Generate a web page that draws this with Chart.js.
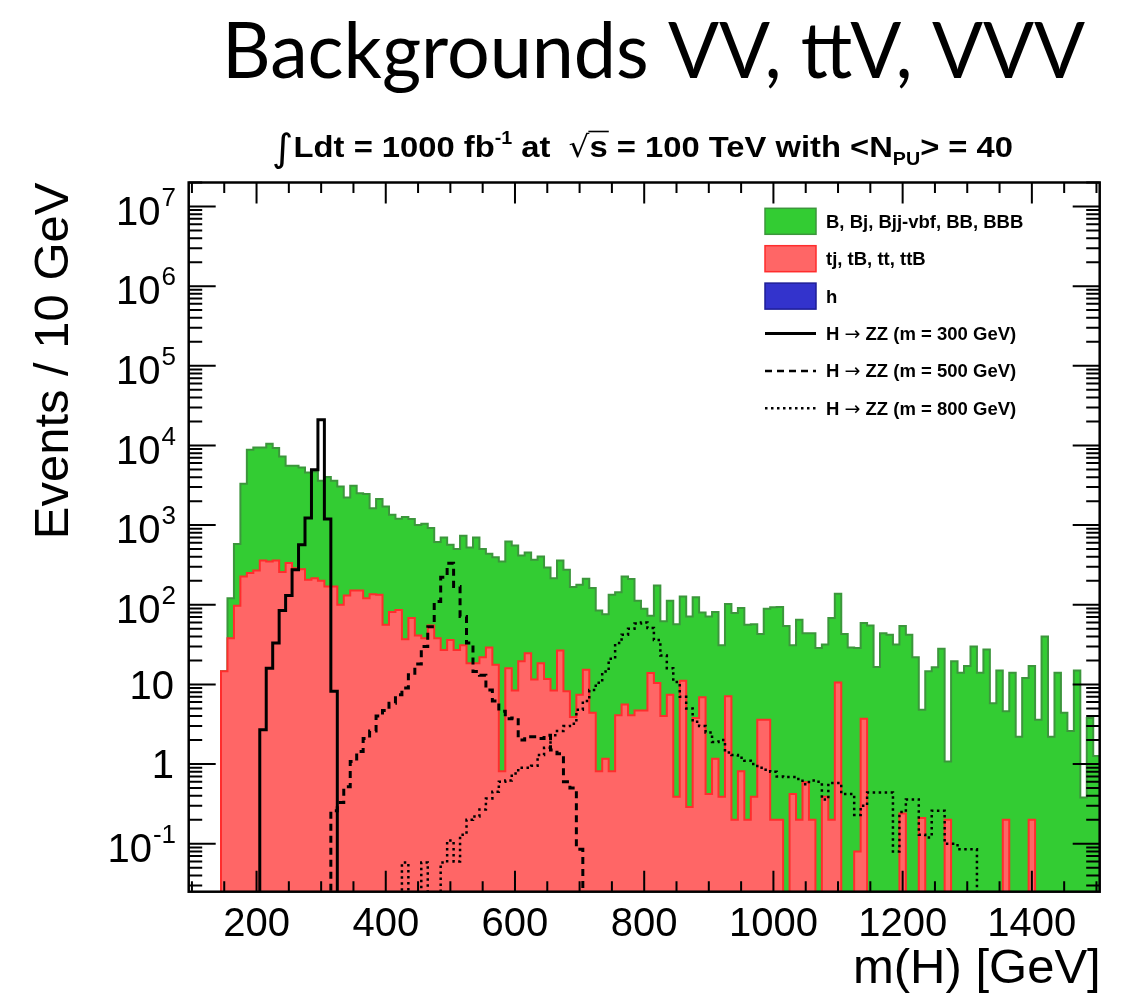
<!DOCTYPE html>
<html>
<head>
<meta charset="utf-8">
<title>Backgrounds VV, ttV, VVV</title>
<script src="https://cdn.jsdelivr.net/npm/chart.js@4.4.1/dist/chart.umd.min.js"></script>
<style>
  html, body { margin: 0; padding: 0; background: #fff; }
  #wrap { width: 1129px; height: 993px; }
</style>
</head>
<body>
<div id="wrap"><canvas id="chart" width="1129" height="993"></canvas></div>
<script>
// 10 GeV bins centred on 100, 110, ... 1500 GeV
const binCentres = Array.from({ length: 141 }, (_, i) => 100 + 10 * i);

// stacked total (green) : B, Bj, Bjj-vbf, BB, BBB on top of the top-quark samples
const totalBkg = [
  0, 0, 0, 0, 0, 14.6, 121, 578, 3300, 8830,                 // 100-190
  9440, 9440, 10500, 9260, 7280, 5560, 5560, 5300, 4580, 4720,   // 200-290
  3600, 4010, 3600, 3060, 2220, 3120, 2520, 2450, 1630, 2120,    // 300-390
  1710, 1350, 1200, 1260, 1190, 1000, 1040, 917, 612, 700,       // 400-490
  566, 500, 735, 525, 700, 500, 437, 396, 350, 624,              // 500-590
  556, 416, 454, 367, 405, 294, 216, 360, 275, 167,              // 600-690
  178, 212, 162, 85, 76, 134, 144, 227, 210, 112,                // 700-790
  89, 73, 175, 62, 112, 57, 127, 71, 124, 80,                    // 800-890
  71, 81, 31, 102, 79, 91, 56, 57, 43, 89,                       // 900-990
  93, 94, 54, 31, 65, 44, 44, 28.7, 31.6, 68,                    // 1000-1090
  138, 43, 29, 28.7, 59, 55, 16.6, 44, 42, 31.6,                 // 1100-1190
  54, 42, 22, 4.8, 14.6, 16.4, 28, 1.08, 19.5, 14,               // 1200-1290
  17, 30, 14, 27.5, 5.8, 15, 4.6, 14, 2.2, 12,                   // 1300-1390
  17, 3.6, 40, 2.2, 14, 4.4, 2.6, 15, 0.38, 3.8,                 // 1400-1490
  1.26                                                           // 1500
];

// tj, tB, tt, ttB (red)
const topBkg = [
  0, 0, 0, 0, 0, 14.6, 38, 97, 227, 250,
  270, 360, 350, 360, 257, 334, 288, 280, 206, 215,
  200, 170, 170, 100, 131, 151, 151, 121, 136, 134,
  56, 81, 86, 37, 68, 41, 38, 55, 38, 27,
  36, 27, 31, 18.5, 18.5, 22, 29, 17.7, 0.81, 16,
  8.4, 19.5, 24.7, 11.5, 18.5, 11.7, 8.4, 26.7, 8.2, 3.9,
  7.4, 15.3, 4.4, 0.81, 1.17, 0.81, 4.1, 5.6, 4.1, 4.7,
  4.7, 13.9, 10.4, 4.0, 7.4, 0.39, 11.1, 0.29, 3.8, 6.9,
  0.42, 1.17, 0.39, 7.1, 0.2, 0.81, 0.2, 0.39, 3.6, 3.6,
  0.2, 0.2, 0, 0.42, 0.2, 0.59, 0.2, 0, 0.39, 0.2,
  10.6, 0, 0, 0.08, 3.7, 0, 0, 0, 0, 0,
  0.24, 0, 0, 0.21, 0, 0, 0, 0.2, 0, 0,
  0, 0, 0, 0, 0, 0, 0.2, 0, 0, 0,
  0.2, 0, 0, 0, 0, 0, 0, 0, 0, 0,
  0
];

// H -> ZZ signals
const sig300 = [
  0, 0, 0, 0, 0, 0, 0, 0, 0, 0,
  0, 2.7, 16, 33, 85, 131, 275, 566, 1225, 4950,
  21000, 1190, 8.2, 0, 0, 0, 0, 0, 0, 0,
  0, 0, 0, 0, 0, 0, 0, 0, 0, 0,
  0, 0, 0, 0, 0, 0, 0, 0, 0, 0,
  0, 0, 0, 0, 0, 0, 0, 0, 0, 0,
  0, 0, 0, 0, 0, 0, 0, 0, 0, 0,
  0, 0, 0, 0, 0, 0, 0, 0, 0, 0,
  0, 0, 0, 0, 0, 0, 0, 0, 0, 0,
  0, 0, 0, 0, 0, 0, 0, 0, 0, 0,
  0, 0, 0, 0, 0, 0, 0, 0, 0, 0,
  0, 0, 0, 0, 0, 0, 0, 0, 0, 0,
  0, 0, 0, 0, 0, 0, 0, 0, 0, 0,
  0, 0, 0, 0, 0, 0, 0, 0, 0, 0,
  0
];

const sig500 = [
  0, 0, 0, 0, 0, 0, 0, 0, 0, 0,
  0, 0, 0, 0, 0, 0, 0, 0, 0, 0,
  0, 0, 0.26, 0.33, 0.52, 1.08, 1.44, 2.1, 2.6, 4.0,
  4.7, 5.8, 7.4, 9.0, 13.2, 18, 30, 53, 110, 222,
  333, 170, 71, 33, 14.5, 13, 8.5, 6.2, 4.6, 3.7,
  3.8, 2.0, 2.2, 2.2, 2.1, 2.3, 1.5, 1.35, 0.6, 0.5,
  0.085, 0, 0, 0, 0, 0, 0, 0, 0, 0,
  0, 0, 0, 0, 0, 0, 0, 0, 0, 0,
  0, 0, 0, 0, 0, 0, 0, 0, 0, 0,
  0, 0, 0, 0, 0, 0, 0, 0, 0, 0,
  0, 0, 0, 0, 0, 0, 0, 0, 0, 0,
  0, 0, 0, 0, 0, 0, 0, 0, 0, 0,
  0, 0, 0, 0, 0, 0, 0, 0, 0, 0,
  0, 0, 0, 0, 0, 0, 0, 0, 0, 0,
  0
];

const sig800 = [
  0, 0, 0, 0, 0, 0, 0, 0, 0, 0,
  0, 0, 0, 0, 0, 0, 0, 0, 0, 0,
  0, 0, 0, 0, 0, 0, 0, 0, 0, 0,
  0, 0, 0, 0.058, 0, 0, 0.058, 0, 0, 0.058,
  0.11, 0.06, 0.13, 0.2, 0.22, 0.27, 0.37, 0.45, 0.6, 0.62,
  0.76, 0.9, 0.9, 0.95, 1.3, 1.6, 2.3, 2.6, 3.0, 3.2,
  4.8, 6.2, 8.5, 10.5, 14.5, 21, 33, 42, 50, 58,
  60, 51, 36, 23, 16, 10.7, 7, 5, 3.4, 3.0,
  2.5, 1.9, 2.0, 1.4, 1.3, 1.2, 1.1, 1.0, 0.9, 0.85,
  0.8, 0.7, 0.69, 0.69, 0.65, 0.56, 0.62, 0.6, 0.36, 0.58,
  0.58, 0.42, 0.42, 0.23, 0.3, 0.44, 0.44, 0.44, 0.44, 0.08,
  0.25, 0.36, 0.36, 0.13, 0.12, 0.26, 0.26, 0.1, 0.1, 0.085,
  0.085, 0.085, 0, 0, 0, 0, 0, 0, 0, 0,
  0, 0, 0, 0, 0, 0, 0, 0, 0, 0,
  0
];

const xTickLabels = [200, 400, 600, 800, 1000, 1200, 1400];
const yTickExponents = [-1, 0, 1, 2, 3, 4, 5, 6, 7];

const titleText = 'Backgrounds VV, ttV, VVV';
const xTitle = 'm(H) [GeV]';
const yTitle = 'Events / 10 GeV';

const FONT = '"Liberation Sans", Arial, Helvetica, sans-serif';
const greenFill = 'rgb(51,204,51)';
const greenLine = 'rgb(60,150,60)';
const redFill = 'rgb(255,102,102)';
const redLine = 'rgb(255,45,45)';
const blueFill = 'rgb(51,51,204)';
const blueLine = 'rgb(30,30,150)';
const FLOOR = 1e-4;   // empty bins go below the axis

// turn bin contents into step points (left edges + closing edge)
function histPoints(values) {
  let first = 0, last = values.length - 1;
  while (first < last && !values[first]) first++;
  while (last > first && !values[last]) last--;
  const pts = [{ x: binCentres[first] - 5, y: FLOOR }];
  for (let i = first; i <= last; i++) {
    pts.push({ x: binCentres[i] - 5, y: Math.max(values[i], FLOOR) });
  }
  pts.push({ x: binCentres[last] + 5, y: Math.max(values[last], FLOOR) });
  pts.push({ x: binCentres[last] + 5, y: FLOOR });
  return pts;
}

function sigDataset(label, values, dash, width) {
  return {
    label: label,
    data: histPoints(values),
    stepped: true,
    fill: false,
    borderColor: '#000',
    borderWidth: width,
    borderDash: dash,
    borderCapStyle: 'butt',
    pointRadius: 0
  };
}

const legendRows = [
  { label: 'B, Bj, Bjj-vbf, BB, BBB', fill: greenFill, line: greenLine },
  { label: 'tj, tB, tt, ttB', fill: redFill, line: redLine },
  { label: 'h', fill: blueFill, line: blueLine },
  { label: 'H \u2192 ZZ (m = 300 GeV)', dash: [] },
  { label: 'H \u2192 ZZ (m = 500 GeV)', dash: [7, 5] },
  { label: 'H \u2192 ZZ (m = 800 GeV)', dash: [2.5, 3.5] }
];

// legend text, with the arrow taken from a font that has a full-size one
function legendText(c, text, x, y) {
  const bits = text.split('\u2192');
  c.font = 'bold 18.5px ' + FONT;
  c.fillText(bits[0], x, y);
  if (bits.length < 2) return;
  x += c.measureText(bits[0]).width;
  c.font = '19px "DejaVu Sans", ' + FONT;
  c.fillText('\u2192', x, y);
  x += c.measureText('\u2192').width;
  c.font = 'bold 18.5px ' + FONT;
  c.fillText(bits[1], x, y);
}

// draws the ROOT-like frame, inner ticks, labels, titles and legend
const rootStyle = {
  id: 'rootStyle',
  beforeDraw(chart) {
    const c = chart.ctx;
    c.save();
    c.fillStyle = '#fff';
    c.fillRect(0, 0, chart.width, chart.height);
    c.restore();
  },
  afterDraw(chart) {
    const c = chart.ctx;
    const a = chart.chartArea;
    const xs = chart.scales.x, ys = chart.scales.y;
    c.save();
    c.strokeStyle = '#000';
    c.fillStyle = '#000';

    // x ticks (top and bottom)
    c.lineWidth = 2;
    c.beginPath();
    for (let v = 100; v <= 1500; v += 50) {
      const px = xs.getPixelForValue(v);
      const len = xTickLabels.includes(v) ? 21 : 10.5;
      c.moveTo(px, a.bottom); c.lineTo(px, a.bottom - len);
      c.moveTo(px, a.top); c.lineTo(px, a.top + len);
    }
    // y ticks (left and right), 1..9 per decade
    for (let e = -2; e <= 7; e++) {
      for (let m = 1; m <= 9; m++) {
        const v = m * Math.pow(10, e);
        if (v < ys.min || v > ys.max) continue;
        const py = ys.getPixelForValue(v);
        const len = m === 1 ? 27 : 13.5;
        c.moveTo(a.left, py); c.lineTo(a.left + len, py);
        c.moveTo(a.right, py); c.lineTo(a.right - len, py);
      }
    }
    c.stroke();

    // frame
    c.lineWidth = 2.5;
    c.strokeRect(a.left, a.top, a.right - a.left, a.bottom - a.top);

    // x tick labels
    c.font = '40px ' + FONT;
    c.textAlign = 'center';
    c.textBaseline = 'alphabetic';
    for (const v of xTickLabels) {
      c.fillText(String(v), xs.getPixelForValue(v), 936);
    }

    // y tick labels with superscripts
    const xr = 176;
    for (const e of yTickExponents) {
      const py = ys.getPixelForValue(Math.pow(10, e));
      c.textAlign = 'right';
      if (e === 0 || e === 1) {
        c.font = '40px ' + FONT;
        c.fillText(e === 0 ? '1' : '10', xr - 2, py + 14.3);
      } else {
        const sup = String(e);
        c.font = '26px ' + FONT;
        const sw = c.measureText(sup).width;
        c.fillText(sup, xr, py + 18.3 - 19);
        c.font = '40px ' + FONT;
        c.fillText('10', xr - sw - 1, py + 18.3);
      }
    }

    // axis titles
    c.font = '49px ' + FONT;
    c.textAlign = 'right';
    c.fillText(xTitle, a.right + 1, 983);
    c.save();
    c.translate(68, a.top);
    c.rotate(-Math.PI / 2);
    c.fillText(yTitle, 0, 0);
    c.restore();

    // legend
    c.textAlign = 'left';
    legendRows.forEach((row, k) => {
      const cy = 221.3 + 37.4 * k;
      if (row.fill) {
        c.fillStyle = row.fill;
        c.fillRect(765, cy - 13, 51, 26);
        c.strokeStyle = row.line;
        c.lineWidth = 1.5;
        c.setLineDash([]);
        c.strokeRect(765, cy - 13, 51, 26);
      } else {
        c.strokeStyle = '#000';
        c.lineWidth = row.dash.length ? 2.5 : 3;
        c.setLineDash(row.dash);
        c.beginPath();
        c.moveTo(765, cy); c.lineTo(816, cy);
        c.stroke();
        c.setLineDash([]);
      }
      c.fillStyle = '#000';
      legendText(c, row.label, 826, cy + 6.5);
    });

    // big title
    c.font = '78px Lato, "Open Sans", sans-serif';
    c.textAlign = 'left';
    const tw = c.measureText(titleText).width;
    c.save();
    c.translate(222, 78);
    c.scale(863 / tw, 1);
    c.fillText(titleText, 0, 0);
    c.restore();

    // luminosity line: ∫Ldt = 1000 fb^-1 at √s = 100 TeV with <N_PU> = 40
    const parts = [
      { t: '\u222B', f: '38px "DejaVu Sans", ' + FONT, dy: 4 },
      { t: 'Ldt = 1000 fb', f: 'bold 30px ' + FONT, dy: 0 },
      { t: '-1', f: 'bold 18px ' + FONT, dy: -13 },
      { t: ' at  ', f: 'bold 30px ' + FONT, dy: 0 },
      { t: '\u221A', f: '30px "DejaVu Sans", ' + FONT, dy: 0, root: true },
      { t: 's', f: 'bold 30px ' + FONT, dy: 0, over: true },
      { t: ' = 100 TeV with <N', f: 'bold 30px ' + FONT, dy: 0 },
      { t: 'PU', f: 'bold 18px ' + FONT, dy: 8 },
      { t: '> = 40', f: 'bold 30px ' + FONT, dy: 0 }
    ];
    let total = 0;
    parts.forEach(p => { c.font = p.f; p.w = c.measureText(p.t).width; total += p.w; });
    const sx = 741 / total;
    c.save();
    c.translate(272, 157);
    c.scale(sx, 1);
    let x = 0, rootEnd = 0;
    parts.forEach(p => {
      c.font = p.f;
      c.fillText(p.t, x, p.dy);
      if (p.root) rootEnd = x + p.w - 1;
      if (p.over) {
        c.lineWidth = 1.6;
        c.beginPath();
        c.moveTo(rootEnd, -25.5);
        c.lineTo(x + p.w + 1, -25.5);
        c.stroke();
      }
      x += p.w;
    });
    c.restore();

    c.restore();
  }
};

const ctx = document.getElementById('chart').getContext('2d');
new Chart(ctx, {
  type: 'line',
  data: {
    datasets: [
      sigDataset('H \u2192 ZZ (m = 300 GeV)', sig300, [], 3),
      sigDataset('H \u2192 ZZ (m = 500 GeV)', sig500, [7, 5], 3),
      sigDataset('H \u2192 ZZ (m = 800 GeV)', sig800, [2.5, 3.5], 2.5),
      {
        label: 'tj, tB, tt, ttB',
        data: histPoints(topBkg),
        stepped: true,
        fill: 'start',
        backgroundColor: redFill,
        borderColor: redLine,
        borderWidth: 2,
        pointRadius: 0
      },
      {
        label: 'B, Bj, Bjj-vbf, BB, BBB',
        data: histPoints(totalBkg),
        stepped: true,
        fill: 'start',
        backgroundColor: greenFill,
        borderColor: greenLine,
        borderWidth: 2,
        pointRadius: 0
      }
    ]
  },
  options: {
    responsive: false,
    animation: false,
    devicePixelRatio: 1,
    layout: { padding: { left: 0, top: 182.5, right: 29.3, bottom: 0 } },
    plugins: {
      legend: { display: false },
      tooltip: { enabled: false }
    },
    scales: {
      x: {
        type: 'linear',
        min: 95,
        max: 1505,
        grid: { display: false },
        border: { display: false },
        ticks: { display: false },
        afterFit: s => { s.height = 101.3; }
      },
      y: {
        type: 'logarithmic',
        min: 0.025,
        max: 2e7,
        grid: { display: false },
        border: { display: false },
        ticks: { display: false },
        afterFit: s => { s.width = 188.7; }
      }
    }
  },
  plugins: [rootStyle]
});
</script>
</body>
</html>
